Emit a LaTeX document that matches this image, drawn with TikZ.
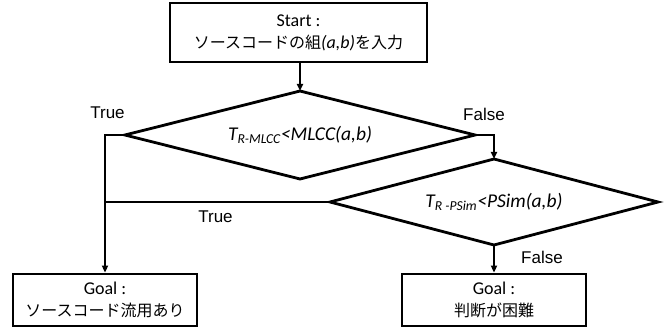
\documentclass[tikz,border=0pt]{standalone}
\usepackage{fontspec}
\setmainfont{Carlito}
\newfontfamily\jp{Noto Sans CJK JP}
\newfontfamily\arialf{Liberation Sans}
\usetikzlibrary{shapes.geometric,arrows.meta}
\begin{document}
\begin{tikzpicture}[x=1pt,y=-1pt,
  box/.style={draw, line width=2.8pt, rectangle, inner sep=0pt, align=center,
    font=\fontsize{18}{22}\selectfont},
  dia/.style={draw, line width=2.8pt, diamond, inner sep=0pt, outer sep=0pt,
    font=\fontsize{19.5}{24}\selectfont\itshape},
  conn/.style={line width=1.8pt},
  arr/.style={line width=1.8pt, -{Triangle[length=7pt,width=6pt]}},
  lbl/.style={font=\arialf\fontsize{17}{20}\selectfont, inner sep=0pt}]
\useasboundingbox (0,0) rectangle (668,331);
\node[box, minimum width=257pt, minimum height=59pt] (start) at (298.5,32.5)
  {Start :\\{\jp\fontsize{16}{22}\selectfont ソースコードの組}{\itshape(a,b)}{\jp\fontsize{16}{22}\selectfont を入力}};
\node[dia, minimum width=350pt, minimum height=88pt, aspect=3.98] (d1) at (300,135)
  {\raisebox{-3pt}{T\textsubscript{R-MLCC}<MLCC(a,b)}};
\node[dia, minimum width=328pt, minimum height=86pt, aspect=3.8] (d2) at (494,202)
  {\raisebox{-1pt}{T\textsubscript{R -PSim}<PSim(a,b)}};
\node[box, minimum width=184pt, minimum height=52pt] (g1) at (105,300)
  {Goal :\\{\jp\fontsize{16}{22}\selectfont ソースコード流用あり}};
\node[box, minimum width=184pt, minimum height=52pt] (g2) at (494,300)
  {Goal :\\{\jp\fontsize{16}{22}\selectfont 判断が困難}};
\draw[arr] (d1.north |- start.south) -- (d1.north);
\draw[arr] (d1.east) -| (d2.north);
\draw[arr] (d1.west) -| (g1.north);
\draw[conn] (d2.west) -- (d2.west -| g1.north);
\draw[arr] (d2.south) -- (g2.north);
\node[lbl] (t1) at (107.5,112.5) {True};
\node[lbl] (f1) at (484,114) {False};
\node[lbl] (t2) at (215.5,216.5) {True};
\node[lbl] (f2) at (542,257.5) {False};
\end{tikzpicture}
\end{document}
